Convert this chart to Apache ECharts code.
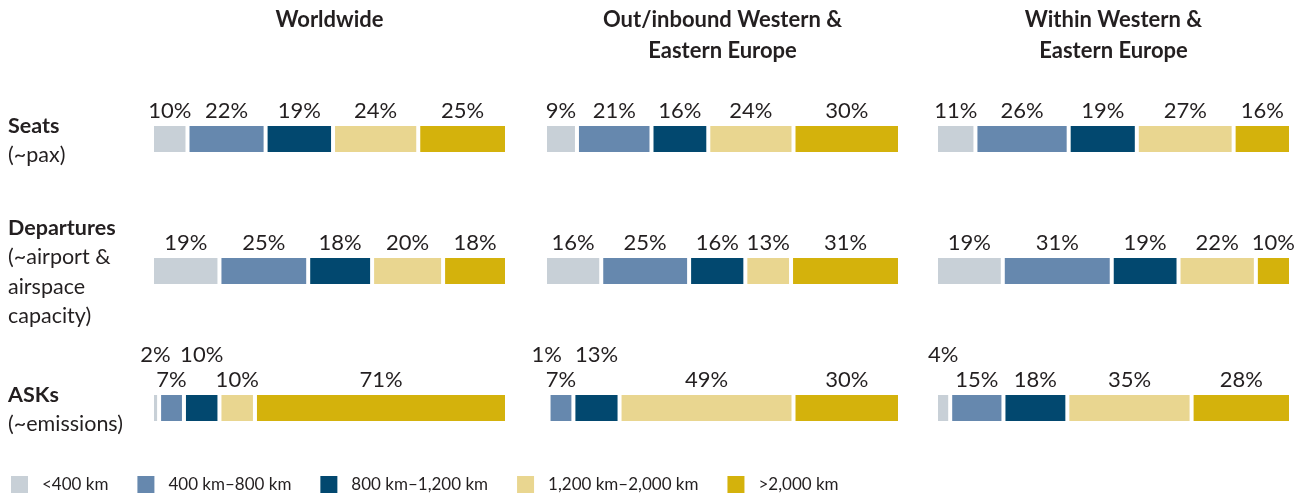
<!DOCTYPE html>
<html>
<head>
<meta charset="utf-8">
<script src="https://cdn.jsdelivr.net/npm/echarts@6/dist/echarts.min.js"></script>
<style>html,body{margin:0;padding:0;background:#fff}#main{width:1309px;height:498px}</style>
</head>
<body>
<div id="main"></div>
<script>
// distance bands (legend + stack order)
var bands = ['<400 km', '400 km–800 km', '800 km–1,200 km', '1,200 km–2,000 km', '>2,000 km'];
var panels = ['Worldwide', 'Out/inbound Western &\nEastern Europe', 'Within Western &\nEastern Europe'];
var metrics = ['Seats', 'Departures', 'ASKs'];
var metricNotes = ['(~pax)', '(~airport &\nairspace\ncapacity)', '(~emissions)'];

// shares in %, rows = Seats, Departures, ASKs
var worldwide = [[10, 22, 19, 24, 25], [19, 25, 18, 20, 18], [2, 7, 10, 10, 71]];
var outInbound = [[9, 21, 16, 24, 30], [16, 25, 16, 13, 31], [1, 7, 13, 49, 30]];
var withinEurope = [[11, 26, 19, 27, 16], [19, 31, 19, 22, 10], [4, 15, 18, 35, 28]];
var panelData = [worldwide, outInbound, withinEurope];

// labels that sit on a second line above the bar (panel, row, segment)
var raisedLabels = ['0-2-0', '0-2-2', '1-2-0', '1-2-2', '2-2-0'];

var colors = ['#c8d0d7', '#6688ae', '#02486f', '#e9d690', '#d4b20c'];
var font = 'Lato, "Open Sans", sans-serif';
var textColor = '#231f20';

var panelLeft = [152, 545, 936];
var panelWidth = 355;
var rowTop = [124, 256, 393];

var grids = [], xAxes = [], yAxes = [], series = [];
for (var p = 0; p < 3; p++) {
    for (var r = 0; r < 3; r++) {
        var gi = grids.length;
        var row = panelData[p][r];
        var total = 0;
        row.forEach(function (v) { total += v; });
        grids.push({left: panelLeft[p], top: rowTop[r], width: panelWidth, height: 30});
        xAxes.push({type: 'value', gridIndex: gi, min: 0, max: total, show: false});
        yAxes.push({type: 'category', gridIndex: gi, data: [metrics[r]], show: false});
        for (var s = 0; s < 5; s++) {
            var item = {value: row[s]};
            if (raisedLabels.indexOf(p + '-' + r + '-' + s) >= 0) {
                item.label = {offset: [0, -25]};
            }
            series.push({
                name: bands[s],
                type: 'bar',
                xAxisIndex: gi,
                yAxisIndex: gi,
                stack: 'g' + gi,
                barWidth: 30,
                itemStyle: {color: colors[s], borderColor: '#fff', borderWidth: 2},
                label: {
                    show: true,
                    position: 'top',
                    distance: 2,
                    formatter: '{c}%',
                    fontFamily: font,
                    fontSize: 22,
                    color: textColor
                },
                data: [item]
            });
        }
    }
}

var graphics = [];
panels.forEach(function (t, i) {
    graphics.push({
        type: 'text', x: panelLeft[i] + panelWidth / 2, y: 4,
        style: {text: t, align: 'center', verticalAlign: 'top', lineHeight: 31,
            fontFamily: font, fontSize: 22, fontWeight: 'bold', fill: textColor}
    });
});
var labelTop = [111, 213, 380];
metrics.forEach(function (m, i) {
    graphics.push({
        type: 'text', x: 8, y: labelTop[i],
        style: {text: m, align: 'left', verticalAlign: 'top', lineHeight: 29.5,
            fontFamily: font, fontSize: 21.5, fontWeight: 'bold', fill: textColor}
    });
    graphics.push({
        type: 'text', x: 8, y: labelTop[i] + 29.5,
        style: {text: metricNotes[i], align: 'left', verticalAlign: 'top', lineHeight: 29.5,
            fontFamily: font, fontSize: 21.5, fill: textColor}
    });
});

var myChart = echarts.init(document.getElementById('main'));
var option = {
    animation: false,
    grid: grids,
    xAxis: xAxes,
    yAxis: yAxes,
    legend: {
        data: bands,
        left: 9,
        top: 474,
        padding: 0,
        itemWidth: 19,
        itemHeight: 19,
        itemGap: 27,
        icon: 'rect',
        selectedMode: false,
        textStyle: {fontFamily: font, fontSize: 17, color: textColor, padding: [0, 0, 0, 8]}
    },
    graphic: graphics,
    series: series
};
myChart.setOption(option);
</script>
</body>
</html>
